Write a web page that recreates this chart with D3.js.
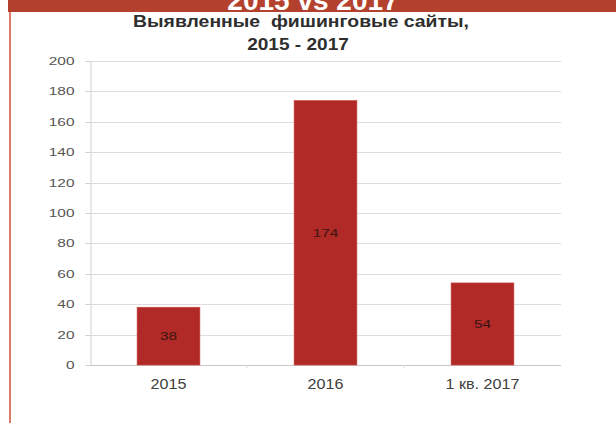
<!DOCTYPE html>
<html><head><meta charset="utf-8">
<script src="https://cdn.jsdelivr.net/npm/d3@7"></script>
<style>html,body{margin:0;padding:0;background:#fff;}svg{display:block;font-family:"Liberation Sans",Arial,sans-serif;}</style>
</head><body>
<svg id="c" width="616" height="423"></svg>
<script>
const categories = ["2015", "2016", "1 кв. 2017"];
const values = [38, 174, 54];
const yTicks = [0, 20, 40, 60, 80, 100, 120, 140, 160, 180, 200];
const bannerText = "2015 vs 2017";
const titleLines = ["Выявленные  фишинговые сайты,", "2015 - 2017"];

const svg = d3.select("#c");
const W = 616, H = 423;
const plot = {left: 90, right: 561, top: 61, bottom: 365};

function stretch(sel, k) {
  sel.each(function() {
    const n = this.getComputedTextLength();
    d3.select(this).attr("textLength", n * k).attr("lengthAdjust", "spacingAndGlyphs");
  });
}

// banner
svg.append("defs").append("clipPath").attr("id", "bandClip")
  .append("rect").attr("x", 0).attr("y", 0).attr("width", W).attr("height", 12);
svg.append("rect").attr("x", 8).attr("y", 0).attr("width", W - 8).attr("height", 12).attr("fill", "#b3412d");
svg.append("g").attr("clip-path", "url(#bandClip)").append("text").attr("x", 313).attr("y", 10).attr("text-anchor", "middle")
  .attr("font-size", 28).attr("font-weight", "bold").attr("fill", "#fff").text(bannerText);
svg.append("rect").attr("x", 9).attr("y", 12).attr("width", 2).attr("height", H - 12).attr("fill", "#dc7b6c");

// title
const t1 = svg.append("text").attr("x", 301).attr("y", 27).attr("text-anchor", "middle")
  .style("white-space", "pre").attr("xml:space", "preserve")
  .attr("font-size", 17).attr("font-weight", "bold").attr("fill", "#2e2e2e").text(titleLines[0]);
const t2 = svg.append("text").attr("x", 298).attr("y", 50).attr("text-anchor", "middle")
  .attr("font-size", 17).attr("font-weight", "bold").attr("fill", "#2e2e2e").text(titleLines[1]);
stretch(t1, 1.14); stretch(t2, 1.12);

const x = d3.scaleBand().domain(categories).range([plot.left, plot.right]).paddingInner(0.6).paddingOuter(0.3);
const y = d3.scaleLinear().domain([0, 200]).range([plot.bottom, plot.top]);

// gridlines
svg.append("g").selectAll("line").data(yTicks).join("line")
  .attr("x1", plot.left).attr("x2", plot.right)
  .attr("y1", d => Math.round(y(d)) + 0.5).attr("y2", d => Math.round(y(d)) + 0.5)
  .attr("stroke", d => d === 0 ? "#c8c8c8" : "#dedede").attr("stroke-width", 1);

// y axis
const yAxis = svg.append("g").attr("transform", `translate(${plot.left + 0.5},0)`)
  .call(d3.axisLeft(y).tickValues(yTicks).tickSize(5).tickPadding(11).tickFormat(d3.format("d")));
yAxis.select(".domain").attr("stroke", "#d0d0d0");
yAxis.selectAll(".tick line").attr("stroke", "#d0d0d0");
yAxis.selectAll(".tick").attr("transform", d => `translate(0,${Math.round(y(d)) + 0.5})`);
yAxis.selectAll("text").attr("font-size", 11).attr("fill", "#555").attr("font-family", "Liberation Sans, Arial, sans-serif");
stretch(yAxis.selectAll("text"), 1.4);

// x boundary ticks
svg.append("g").selectAll("line").data(categories.slice(1)).join("line")
  .attr("x1", d => Math.round(x(d) - x.step() * x.paddingInner() / 2)).attr("x2", d => Math.round(x(d) - x.step() * x.paddingInner() / 2))
  .attr("y1", plot.bottom).attr("y2", plot.bottom + 3).attr("stroke", "#d8d8d8");

// bars
svg.append("g").selectAll("rect").data(values).join("rect")
  .attr("x", (d, i) => x(categories[i])).attr("width", x.bandwidth())
  .attr("y", d => y(d)).attr("height", d => y(0) - y(d))
  .attr("fill", "#b12a27").attr("stroke", "#c9483f").attr("stroke-width", 0.6);

// value labels
const vl = svg.append("g").selectAll("text").data(values).join("text")
  .attr("x", (d, i) => x(categories[i]) + x.bandwidth() / 2)
  .attr("y", d => (y(d) + y(0)) / 2 + 4)
  .attr("text-anchor", "middle").attr("font-size", 11).attr("fill", "#3a1512").text(d => d);
stretch(vl, 1.4);

// x labels
const xl = svg.append("g").selectAll("text").data(categories).join("text")
  .attr("x", d => x(d) + x.bandwidth() / 2).attr("y", plot.bottom + 24)
  .attr("text-anchor", "middle").attr("font-size", 14).attr("fill", "#404040").text(d => d);
stretch(xl, 1.15);
</script>
</body></html>
